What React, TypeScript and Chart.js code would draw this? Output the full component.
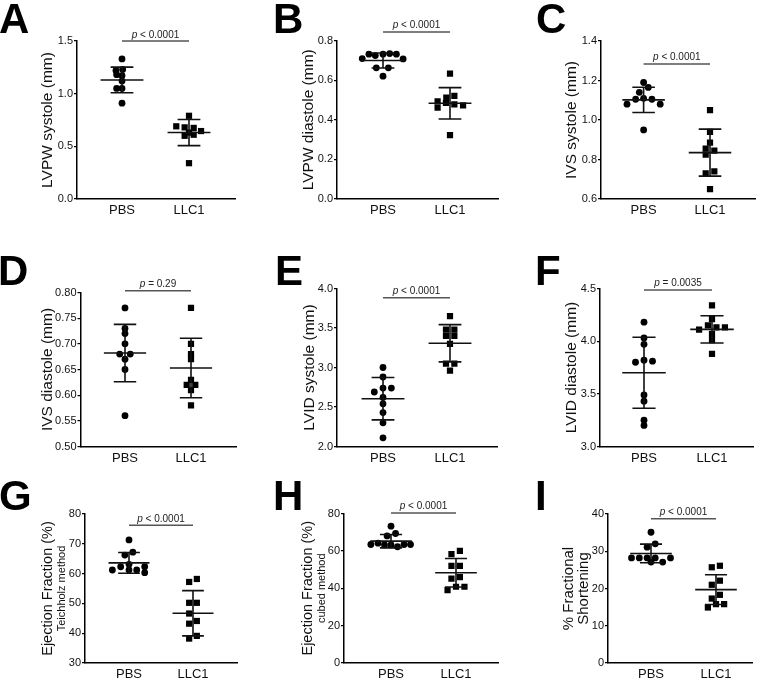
import React, { useEffect, useRef } from "react";
import { Chart, registerables } from "chart.js";
Chart.register(...registerables);

const groups = ["PBS", "LLC1"];

// A: LVPW systole (mm)
const aPBS = [1.33, 1.23, 1.22, 1.18, 1.17, 1.12, 1.05, 1.05, 0.91];
const aPBSx = [0, 0.01, -0.09, -0.08, 0, 0, -0.08, 0, 0];
const aLLC = [0.79, 0.69, 0.68, 0.675, 0.645, 0.63, 0.61, 0.6, 0.34];
const aLLCx = [0, -0.19, -0.065, 0.07, 0.18, 0, 0.07, -0.065, 0];
const aMean = [1.13, 0.631];
const aSD = [0.122, 0.124];

// B: LVPW diastole (mm)
const bPBS = [0.709, 0.731, 0.724, 0.731, 0.734, 0.731, 0.707, 0.662, 0.662, 0.62];
const bPBSx = [-0.31, -0.21, -0.115, 0, 0.1, 0.2, 0.3, -0.1, 0.08, 0];
const bLLC = [0.633, 0.52, 0.512, 0.493, 0.485, 0.478, 0.472, 0.461, 0.322];
const bLLCx = [0, 0.065, -0.055, -0.185, -0.06, 0.065, 0.195, -0.185, 0];
const bMean = [0.699, 0.483];
const bSD = [0.038, 0.079];

// C: IVS systole (mm)
const cPBS = [1.19, 1.165, 1.14, 1.105, 1.11, 1.105, 1.08, 1.08, 0.95];
const cPBSx = [0, 0.07, -0.065, -0.12, 0, 0.125, -0.25, 0.25, 0];
const cLLC = [1.05, 0.94, 0.885, 0.855, 0.845, 0.825, 0.74, 0.73, 0.65];
const cLLCx = [0, 0, 0, -0.065, 0.065, -0.065, 0.065, -0.065, 0];
const cMean = [1.102, 0.835];
const cSD = [0.064, 0.119];

// D: IVS diastole (mm)
const dPBS = [0.77, 0.73, 0.72, 0.7, 0.68, 0.68, 0.67, 0.65, 0.56];
const dPBSx = [0, 0, 0, 0, -0.08, 0.08, 0, 0, 0];
const dLLC = [0.77, 0.7, 0.68, 0.67, 0.63, 0.62, 0.62, 0.61, 0.58];
const dLLCx = [0, 0, 0, 0, 0, -0.065, 0.065, 0, 0];
const dMean = [0.682, 0.653];
const dSD = [0.056, 0.058];

// E: LVID systole (mm)
const ePBS = [3.0, 2.88, 2.74, 2.74, 2.69, 2.62, 2.54, 2.43, 2.3, 2.11];
const ePBSx = [0, 0, 0, 0.125, -0.13, 0, 0, 0, 0, 0];
const eLLC = [3.65, 3.48, 3.48, 3.4, 3.4, 3.3, 3.05, 3.05, 2.96];
const eLLCx = [0, -0.06, 0.065, -0.06, 0.065, 0, -0.06, 0.065, 0];
const eMean = [2.605, 3.307];
const eSD = [0.268, 0.236];

// F: LVID diastole (mm)
const fPBS = [4.18, 4.03, 3.97, 3.82, 3.81, 3.8, 3.49, 3.43, 3.25, 3.2];
const fPBSx = [0, 0, 0, 0, 0.125, -0.125, 0, 0, 0, 0];
const fLLC = [4.34, 4.21, 4.15, 4.13, 4.13, 4.11, 4.07, 4.01, 3.88];
const fLLCx = [0, 0, -0.06, 0.065, 0.19, -0.19, 0, 0, 0];
const fMean = [3.7, 4.112];
const fSD = [0.337, 0.129];

// G: Ejection Fraction (%) Teichholz
const gPBS = [71.3, 67.2, 66.2, 63.1, 62.3, 62.3, 61.2, 61.2, 61.2, 60.3];
const gPBSx = [0, 0.06, -0.065, 0, -0.13, 0.245, -0.26, 0, 0.12, 0.245];
const gLLC = [58.2, 57.2, 50.2, 50.2, 46.6, 44.1, 43.2, 39.1, 38.2];
const gLLCx = [0.06, -0.06, -0.06, 0.06, -0.06, 0.06, -0.06, 0.06, -0.06];
const gMean = [63.6, 46.7];
const gSD = [3.5, 7.6];

// H: Ejection Fraction (%) cubed
const hPBS = [73.2, 69.3, 68.0, 64.1, 63.4, 63.4, 63.4, 63.2, 63.2, 62.2];
const hPBSx = [0, 0.07, -0.06, -0.2, -0.31, 0.2, 0.3, -0.1, 0, 0.1];
const hLLC = [60.0, 58.3, 52.0, 52.0, 46.0, 45.1, 40.8, 40.8, 39.0];
const hLLCx = [0.06, -0.07, -0.07, 0.06, 0.06, -0.07, 0, 0.13, -0.13];
const hMean = [65.2, 48.3];
const hSD = [3.6, 7.6];

// I: % Fractional Shortening
const iPBS = [35.1, 32.0, 31.1, 28.2, 28.2, 28.2, 28.2, 28.2, 27.1, 27.1];
const iPBSx = [0, 0.065, -0.06, -0.3, -0.18, -0.06, 0.065, 0.3, 0, 0.18];
const iLLC = [26.1, 25.7, 22.1, 21.0, 18.3, 17.3, 15.8, 15.8, 14.9];
const iLLCx = [0.06, -0.065, 0.06, -0.065, 0.06, -0.065, 0, 0.125, -0.125];
const iMean = [29.4, 19.7];
const iSD = [2.5, 4.0];

const pTexts = ["< 0.0001", "< 0.0001", "< 0.0001", "= 0.29", "< 0.0001", "= 0.0035", "< 0.0001", "< 0.0001", "< 0.0001"];

type Panel = {
  letter: string;
  box: number[];
  plot: number[];
  cat: number[];
  letterPos: number[];
  yMin: number;
  yMax: number;
  step: number;
  dec: number;
  title: string[];
  titleX: number[];
  titleSize: number[];
  pY: number;
  pText: string;
  pbs: number[];
  pbsX: number[];
  llc: number[];
  llcX: number[];
  mean: number[];
  sd: number[];
};

const FONT = "'Liberation Sans', Arial, Helvetica, sans-serif";

const panels: Panel[] = [
  { letter: "A", box: [0, 0, 250, 225], plot: [77, 41, 235, 199], cat: [122, 189], letterPos: [0, 33],
    yMin: 0, yMax: 1.5, step: 0.5, dec: 1, title: ["LVPW systole (mm)"], titleX: [47.5], titleSize: [15.5],
    pY: 1.5, pText: pTexts[0], pbs: aPBS, pbsX: aPBSx, llc: aLLC, llcX: aLLCx, mean: aMean, sd: aSD },
  { letter: "B", box: [250, 0, 255, 225], plot: [337, 40.5, 498, 199], cat: [383, 450], letterPos: [275, 33],
    yMin: 0, yMax: 0.8, step: 0.2, dec: 1, title: ["LVPW diastole (mm)"], titleX: [308.5], titleSize: [15.5],
    pY: 0.843, pText: pTexts[1], pbs: bPBS, pbsX: bPBSx, llc: bLLC, llcX: bLLCx, mean: bMean, sd: bSD },
  { letter: "C", box: [505, 0, 255, 225], plot: [601, 41, 757, 199], cat: [644, 711], letterPos: [537, 33],
    yMin: 0.6, yMax: 1.4, step: 0.2, dec: 1, title: ["IVS systole (mm)"], titleX: [571.5], titleSize: [15.5],
    pY: 1.284, pText: pTexts[2], pbs: cPBS, pbsX: cPBSx, llc: cLLC, llcX: cLLCx, mean: cMean, sd: cSD },
  { letter: "D", box: [0, 225, 250, 246], plot: [80.5, 292.5, 236, 446.5], cat: [125, 191], letterPos: [0, 285],
    yMin: 0.5, yMax: 0.8, step: 0.05, dec: 2, title: ["IVS diastole (mm)"], titleX: [48], titleSize: [15.5],
    pY: 0.8035, pText: pTexts[3], pbs: dPBS, pbsX: dPBSx, llc: dLLC, llcX: dLLCx, mean: dMean, sd: dSD },
  { letter: "E", box: [250, 225, 255, 246], plot: [337, 288.5, 497, 446.5], cat: [383, 450], letterPos: [277, 285],
    yMin: 2, yMax: 4, step: 0.5, dec: 1, title: ["LVID systole (mm)"], titleX: [309.5], titleSize: [15.5],
    pY: 3.884, pText: pTexts[4], pbs: ePBS, pbsX: ePBSx, llc: eLLC, llcX: eLLCx, mean: eMean, sd: eSD },
  { letter: "F", box: [505, 225, 255, 246], plot: [600, 288.5, 753, 446.5], cat: [644, 712], letterPos: [537, 285],
    yMin: 3, yMax: 4.5, step: 0.5, dec: 1, title: ["LVID diastole (mm)"], titleX: [571.5], titleSize: [15.5],
    pY: 4.486, pText: pTexts[5], pbs: fPBS, pbsX: fPBSx, llc: fLLC, llcX: fLLCx, mean: fMean, sd: fSD },
  { letter: "G", box: [0, 472, 250, 206], plot: [85, 514, 237, 663], cat: [129, 193], letterPos: [0, 510],
    yMin: 30, yMax: 80, step: 10, dec: 0, title: ["Ejection Fraction (%)", "Teichholz method"], titleX: [48, 62], titleSize: [14.5, 11],
    pY: 76.2, pText: pTexts[6], pbs: gPBS, pbsX: gPBSx, llc: gLLC, llcX: gLLCx, mean: gMean, sd: gSD },
  { letter: "H", box: [250, 472, 255, 206], plot: [344, 513.5, 498, 663], cat: [391, 456], letterPos: [275, 510],
    yMin: 0, yMax: 80, step: 20, dec: 0, title: ["Ejection Fraction (%)", "cubed method"], titleX: [308, 322], titleSize: [14.5, 11],
    pY: 80.3, pText: pTexts[7], pbs: hPBS, pbsX: hPBSx, llc: hLLC, llcX: hLLCx, mean: hMean, sd: hSD },
  { letter: "I", box: [505, 472, 255, 206], plot: [608, 514, 752, 663], cat: [651, 716], letterPos: [537, 510],
    yMin: 0, yMax: 40, step: 10, dec: 0, title: ["% Fractional", "Shortening"], titleX: [569, 584], titleSize: [15, 15],
    pY: 38.7, pText: pTexts[8], pbs: iPBS, pbsX: iPBSx, llc: iLLC, llcX: iLLCx, mean: iMean, sd: iSD },
];

function makePlugin(p: Panel) {
  const [cl, ct] = p.box;
  return {
    id: "panelDecor" + p.letter,
    afterDatasetsDraw(chart: any) {
      const ctx = chart.ctx as CanvasRenderingContext2D;
      const xs = chart.scales.x;
      const ys = chart.scales.y;
      ctx.save();
      ctx.strokeStyle = "#111";
      ctx.lineWidth = 1.6;
      for (let g = 0; g < 2; g++) {
        const c = g + 1;
        const m = p.mean[g];
        const s = p.sd[g];
        const yM = ys.getPixelForValue(m);
        const yT = ys.getPixelForValue(m + s);
        const yB = ys.getPixelForValue(m - s);
        ctx.beginPath();
        ctx.moveTo(xs.getPixelForValue(c - 0.32), yM);
        ctx.lineTo(xs.getPixelForValue(c + 0.32), yM);
        ctx.moveTo(xs.getPixelForValue(c - 0.17), yT);
        ctx.lineTo(xs.getPixelForValue(c + 0.17), yT);
        ctx.moveTo(xs.getPixelForValue(c - 0.17), yB);
        ctx.lineTo(xs.getPixelForValue(c + 0.17), yB);
        ctx.moveTo(xs.getPixelForValue(c), yT);
        ctx.lineTo(xs.getPixelForValue(c), yB);
        ctx.stroke();
      }
      ctx.restore();
    },
    afterDraw(chart: any) {
      const ctx = chart.ctx as CanvasRenderingContext2D;
      const xs = chart.scales.x;
      const ys = chart.scales.y;
      ctx.save();
      // panel letter
      ctx.fillStyle = "#000";
      ctx.font = `bold 42px ${FONT}`;
      ctx.textBaseline = "alphabetic";
      ctx.textAlign = "left";
      const mt = ctx.measureText(p.letter);
      ctx.fillText(p.letter, p.letterPos[0] - cl + mt.actualBoundingBoxLeft, p.letterPos[1] - ct);
      // y title
      const cy = (chart.chartArea.top + chart.chartArea.bottom) / 2;
      p.title.forEach((t, i) => {
        ctx.save();
        ctx.translate(p.titleX[i] - cl, cy);
        ctx.rotate(-Math.PI / 2);
        ctx.font = `${p.titleSize[i]}px ${FONT}`;
        ctx.textAlign = "center";
        ctx.textBaseline = "middle";
        ctx.fillStyle = "#111";
        ctx.fillText(t, 0, 0);
        ctx.restore();
      });
      // p-value bar
      const yb = ys.getPixelForValue(p.pY);
      const xa = xs.getPixelForValue(1);
      const xb = xs.getPixelForValue(2);
      ctx.strokeStyle = "#555";
      ctx.lineWidth = 1.5;
      ctx.beginPath();
      ctx.moveTo(xa, yb);
      ctx.lineTo(xb, yb);
      ctx.stroke();
      ctx.fillStyle = "#222";
      ctx.textBaseline = "alphabetic";
      ctx.font = `italic 10px ${FONT}`;
      const w1 = ctx.measureText("p").width;
      ctx.font = `10px ${FONT}`;
      const rest = " " + p.pText;
      const w2 = ctx.measureText(rest).width;
      const x0 = (xa + xb) / 2 - (w1 + w2) / 2;
      ctx.font = `italic 10px ${FONT}`;
      ctx.fillText("p", x0, yb - 3.5);
      ctx.font = `10px ${FONT}`;
      ctx.fillText(rest, x0 + w1, yb - 3.5);
      ctx.restore();
    },
  };
}

function makeConfig(p: Panel): any {
  const [cl, ct, cw, ch] = p.box;
  const [x0, y0, x1, y1] = p.plot;
  const unit = p.cat[1] - p.cat[0];
  const xmin = 1 - (p.cat[0] - x0) / unit;
  const xmax = xmin + (x1 - x0) / unit;
  const pbsData = p.pbs.map((v, i) => ({ x: 1 + p.pbsX[i], y: v }));
  const llcData = p.llc.map((v, i) => ({ x: 2 + p.llcX[i], y: v }));
  const nTicks = Math.round((p.yMax - p.yMin) / p.step);
  return {
    type: "scatter",
    data: {
      datasets: [
        { label: groups[0], data: pbsData, pointStyle: "circle", pointRadius: 3.4, backgroundColor: "#000", borderWidth: 0 },
        { label: groups[1], data: llcData, pointStyle: "rect", pointRadius: 4.4, backgroundColor: "#000", borderWidth: 0 },
      ],
    },
    options: {
      responsive: false,
      animation: false,
      devicePixelRatio: 1,
      layout: { padding: { top: y0 - ct, right: cl + cw - x1, left: 0, bottom: 0 } },
      plugins: { legend: { display: false }, tooltip: { enabled: false } },
      scales: {
        x: {
          type: "linear",
          min: xmin,
          max: xmax,
          afterBuildTicks: (s: any) => { s.ticks = [{ value: 1 }, { value: 2 }]; },
          afterFit: (s: any) => { s.height = ct + ch - y1; },
          grid: { display: false, drawTicks: false },
          border: { display: true, color: "#000", width: 1.5 },
          ticks: {
            autoSkip: false,
            maxRotation: 0,
            padding: 4,
            color: "#111",
            font: { family: FONT, size: 13 },
            callback: (v: any) => (v === 1 ? groups[0] : v === 2 ? groups[1] : ""),
          },
        },
        y: {
          type: "linear",
          min: p.yMin,
          max: p.yMax,
          afterBuildTicks: (s: any) => {
            const t = [];
            for (let i = 0; i <= nTicks; i++) t.push({ value: p.yMin + i * p.step });
            s.ticks = t;
          },
          afterFit: (s: any) => { s.width = x0 - cl; },
          grid: { display: true, drawOnChartArea: false, drawTicks: true, tickLength: 3, color: "#000", lineWidth: 1.2 },
          border: { display: true, color: "#000", width: 1.5 },
          ticks: {
            padding: 1,
            color: "#111",
            font: { family: FONT, size: 11 },
            callback: (v: any) => Number(v).toFixed(p.dec),
          },
        },
      },
    },
    plugins: [makePlugin(p)],
  };
}

function PanelChart({ p }: { p: Panel }) {
  const ref = useRef<HTMLCanvasElement>(null);
  useEffect(() => {
    const chart = new Chart(ref.current as HTMLCanvasElement, makeConfig(p));
    return () => chart.destroy();
  }, [p]);
  const [l, t, w, h] = p.box;
  return (
    <canvas
      ref={ref}
      width={w}
      height={h}
      style={{ position: "absolute", left: l, top: t, width: w, height: h }}
    />
  );
}

export default function App() {
  return (
    <div style={{ position: "absolute", left: 0, top: 0, width: 760, height: 678, background: "#fff", overflow: "hidden" }}>
      {panels.map((p) => (
        <PanelChart key={p.letter} p={p} />
      ))}
    </div>
  );
}
